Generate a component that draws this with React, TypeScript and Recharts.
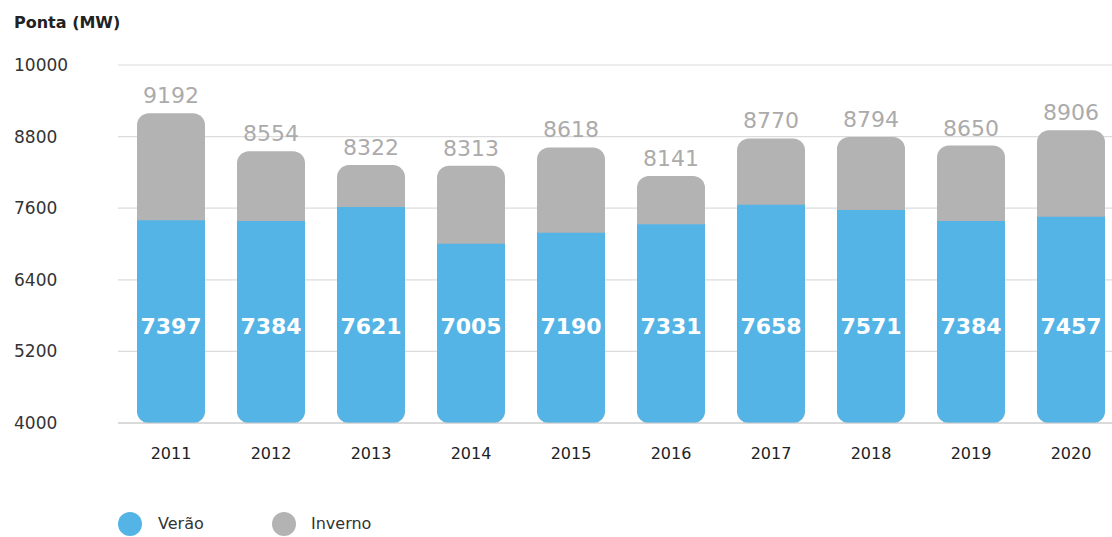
import React from "react";
import { BarChart, Bar, XAxis, YAxis, CartesianGrid, LabelList } from "recharts";

const years = ["2011", "2012", "2013", "2014", "2015", "2016", "2017", "2018", "2019", "2020"];
const verao = [7397, 7384, 7621, 7005, 7190, 7331, 7658, 7571, 7384, 7457];
const inverno = [9192, 8554, 8322, 8313, 8618, 8141, 8770, 8794, 8650, 8906];
const yTicks = [4000, 5200, 6400, 7600, 8800, 10000];

const data = years.map((y, i) => ({ year: y, verao: verao[i], inverno: inverno[i] }));

const FONT = "'DejaVu Sans', sans-serif";
const BLUE = "#54b4e6";
const GRAY = "#b3b3b3";

if (typeof document !== "undefined") {
  document.body.style.margin = "0";
  document.body.style.overflow = "hidden";
}

const YTick = (props: any) => {
  const { y, payload } = props;
  return (
    <text x={14} y={y} dy={6} textAnchor="start" fontSize={17} fill="#333" fontFamily={FONT}>
      {payload.value}
    </text>
  );
};

const XTick = (props: any) => {
  const { x, y, payload } = props;
  return (
    <text x={x} y={y + 28} textAnchor="middle" fontSize={16} fill="#222" fontFamily={FONT} fontWeight={500}>
      {payload.value}
    </text>
  );
};

const WhiteLabel = (props: any) => {
  const { x, y, width, height, value } = props;
  return (
    <text
      x={x + width / 2}
      y={y + height - 97}
      dy={8}
      textAnchor="middle"
      fontSize={22}
      fontWeight={700}
      fill="#fff"
      fontFamily={FONT}
    >
      {value}
    </text>
  );
};

export default function App() {
  return (
    <div style={{ width: 1112, height: 537, overflow: "hidden", position: "relative", background: "#fff", fontFamily: FONT }}>
      <div style={{ position: "absolute", left: 14, top: 13, fontSize: 16, fontWeight: 600, color: "#222" }}>Ponta (MW)</div>
      <BarChart
        width={1121}
        height={537}
        data={data}
        margin={{ top: 65, right: 0, left: 0, bottom: 0 }}
        barSize={68}
        barGap={-68}
      >
        <CartesianGrid vertical={false} stroke="#dcdcdc" strokeWidth={1.2} />
        <XAxis
          dataKey="year"
          height={114}
          axisLine={{ stroke: "#c8c8c8", strokeWidth: 1.2 }}
          tickLine={false}
          tick={<XTick />}
          padding={{ left: 3, right: 0 }}
        />
        <YAxis
          width={118}
          domain={[4000, 10000]}
          ticks={yTicks}
          axisLine={false}
          tickLine={false}
          tick={<YTick />}
          allowDataOverflow
        />
        <Bar dataKey="inverno" fill={GRAY} radius={12} isAnimationActive={false}>
          <LabelList
            dataKey="inverno"
            position="top"
            offset={10}
            fill="#ababab"
            fontSize={22}
            fontFamily={FONT}
          />
        </Bar>
        <Bar dataKey="verao" fill={BLUE} radius={[0, 0, 12, 12]} isAnimationActive={false}>
          <LabelList dataKey="verao" content={<WhiteLabel />} />
        </Bar>
      </BarChart>
      <div style={{ position: "absolute", left: 118, top: 512, width: 24, height: 24, borderRadius: "50%", background: BLUE }} />
      <div style={{ position: "absolute", left: 158, top: 514, fontSize: 16, lineHeight: "20px", color: "#333" }}>Verão</div>
      <div style={{ position: "absolute", left: 272, top: 512, width: 24, height: 24, borderRadius: "50%", background: GRAY }} />
      <div style={{ position: "absolute", left: 311, top: 514, fontSize: 16, lineHeight: "20px", color: "#333" }}>Inverno</div>
    </div>
  );
}
